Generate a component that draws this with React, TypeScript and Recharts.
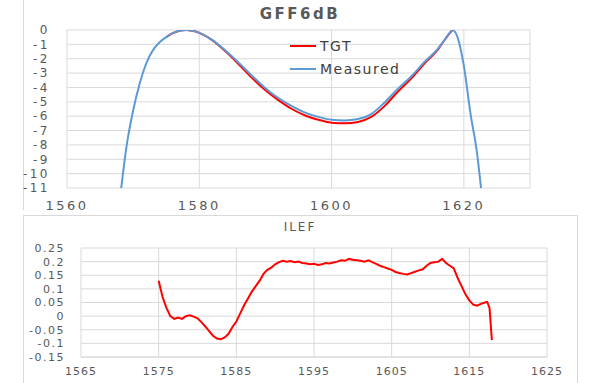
import React from 'react';
import { LineChart, Line, XAxis, YAxis, CartesianGrid } from 'recharts';

// GFF6dB: wavelength (nm) vs attenuation (dB)
const gffWavelength = [
  1568.2, 1569, 1570, 1571, 1572, 1573, 1574, 1575, 1576, 1577, 1578, 1579, 1580,
  1582, 1584, 1586, 1588, 1590, 1592, 1594, 1596, 1598, 1600, 1602, 1604, 1606,
  1608, 1610, 1612, 1614, 1616, 1617, 1618, 1618.3, 1619, 1620, 1621, 1622, 1622.6,
];
const gffTgt: (number | null)[] = [
  null, null, null, null, null, null, null, -0.5, -0.22, -0.05, 0, -0.06, -0.2,
  -0.72, -1.5, -2.4, -3.35, -4.2, -4.9, -5.5, -5.95, -6.25, -6.45, -6.5, -6.4, -6.05,
  -5.3, -4.3, -3.4, -2.35, -1.4, -0.75, -0.15, 0, null, null, null, null, null,
];
const gffMeasured = [
  -11, -8.1, -5.6, -3.7, -2.3, -1.4, -0.85, -0.5, -0.22, -0.05, 0, -0.06, -0.2,
  -0.7, -1.45, -2.3, -3.2, -4.05, -4.75, -5.3, -5.75, -6.05, -6.25, -6.3, -6.2, -5.85,
  -5.05, -4.1, -3.25, -2.25, -1.35, -0.75, -0.12, 0, -0.45, -2.5, -5.8, -8.6, -11,
];
const gffXTicks = [1560, 1580, 1600, 1620];
const gffYTicks = [0, -1, -2, -3, -4, -5, -6, -7, -8, -9, -10, -11];

// ILEF
const ilefWavelength = [
  1575, 1575.5, 1576, 1576.5, 1577, 1577.5, 1578, 1578.5, 1579, 1579.5, 1580, 1580.5,
  1581, 1581.5, 1582, 1582.5, 1583, 1583.5, 1584, 1584.5, 1585, 1585.5, 1586, 1586.5,
  1587, 1587.5, 1588, 1588.5, 1589, 1589.5, 1590, 1590.5, 1591, 1591.5, 1592, 1592.5,
  1593, 1593.5, 1594, 1594.5, 1595, 1595.5, 1596, 1596.5, 1597, 1597.5, 1598, 1598.5,
  1599, 1599.5, 1600, 1600.5, 1601, 1601.5, 1602, 1602.5, 1603, 1603.5, 1604, 1604.5,
  1605, 1605.5, 1606, 1606.5, 1607, 1607.5, 1608, 1608.5, 1609, 1609.5, 1610, 1610.5,
  1611, 1611.5, 1612, 1612.5, 1613, 1613.5, 1614, 1614.5, 1615, 1615.5, 1616, 1616.5,
  1617, 1617.3, 1617.6, 1617.9,
];
const ilefValue = [
  0.13, 0.07, 0.03, 0.0, -0.01, -0.005, -0.01, 0.0, 0.003, -0.002, -0.008, -0.022,
  -0.038, -0.055, -0.072, -0.082, -0.085, -0.078, -0.065, -0.04, -0.02, 0.01, 0.04, 0.065,
  0.09, 0.11, 0.13, 0.155, 0.17, 0.178, 0.19, 0.198, 0.203, 0.2, 0.202, 0.198,
  0.2, 0.195, 0.193, 0.19, 0.192, 0.188, 0.19, 0.195, 0.193, 0.197, 0.2, 0.205,
  0.203, 0.21, 0.207, 0.205, 0.203, 0.2, 0.205, 0.198, 0.192, 0.185, 0.18, 0.175,
  0.17, 0.162, 0.158, 0.155, 0.153, 0.158, 0.163, 0.168, 0.172, 0.185, 0.195, 0.198,
  0.2, 0.21, 0.195, 0.185, 0.175, 0.14, 0.11, 0.08, 0.058, 0.042, 0.038, 0.045,
  0.05, 0.052, 0.03, -0.088,
];
const ilefXTicks = [1565, 1575, 1585, 1595, 1605, 1615, 1625];
const ilefYTicks = [0.25, 0.2, 0.15, 0.1, 0.05, 0, -0.05, -0.1, -0.15];

const gffData = gffWavelength.map((w, i) => ({ w, tgt: gffTgt[i], measured: gffMeasured[i] }));
const ilefData = ilefWavelength.map((w, i) => ({ w, v: ilefValue[i] }));

const FONT = '"DejaVu Sans", sans-serif';
const TEXT = '#595959';
const GRID = '#d9d9d9';

const legendItems = [
  { name: 'TGT', color: '#ff0000' },
  { name: 'Measured', color: '#5b9bd5' },
];

export default function App() {
  return (
    <div style={{ position: 'fixed', left: 0, top: 0, width: 600, height: 383, background: '#fff', overflow: 'hidden' }}>
      {/* frames */}
      <div style={{ position: 'absolute', left: 23, top: 0, width: 1, height: 210, background: GRID }} />
      <div style={{ position: 'absolute', left: 23, top: 215, width: 553, height: 170, borderTop: `1px solid ${GRID}`, borderLeft: `1px solid ${GRID}`, borderRight: `1px solid ${GRID}` }} />

      <div style={{ position: 'absolute', left: 0, top: 5, width: 600, textAlign: 'center', fontFamily: FONT, fontWeight: 'bold', fontSize: 15, letterSpacing: 2.5, color: TEXT }}>
        GFF6dB
      </div>

      <div style={{ position: 'absolute', left: 0, top: 0 }}>
        <LineChart width={600} height={212} data={gffData} margin={{ top: 30, right: 70, bottom: 0, left: 0 }}>
          <CartesianGrid stroke={GRID} strokeWidth={1} />
          <XAxis
            dataKey="w"
            type="number"
            domain={[1560, 1630]}
            ticks={gffXTicks}
            interval={0}
            allowDataOverflow
            height={24}
            tickSize={0}
            tickMargin={13}
            axisLine={false}
            tick={{ fill: TEXT, fontSize: 13, fontFamily: FONT, letterSpacing: 2.5 }}
          />
          <YAxis
            type="number"
            domain={[-11, 0]}
            ticks={gffYTicks}
            interval={0}
            allowDataOverflow
            width={67}
            tickSize={0}
            tickMargin={17}
            axisLine={false}
            tick={{ fill: TEXT, fontSize: 12, fontFamily: FONT, letterSpacing: 2.5 }}
          />
          <Line
            type="monotone"
            dataKey="tgt"
            stroke="#ff0000"
            strokeWidth={2}
            dot={false}
            isAnimationActive={false}
          />
          <Line
            type="monotone"
            dataKey="measured"
            stroke="#5b9bd5"
            strokeWidth={2}
            dot={false}
            isAnimationActive={false}
          />
        </LineChart>
      </div>

      {/* legend */}
      <div style={{ position: 'absolute', left: 290, top: 34, fontFamily: FONT, fontSize: 14, letterSpacing: 1.5, color: '#404040' }}>
        {legendItems.map(item => (
          <div key={item.name} style={{ display: 'flex', alignItems: 'center', height: 23 }}>
            <div style={{ width: 26, height: 2, background: item.color, marginRight: 4 }} />
            <span>{item.name}</span>
          </div>
        ))}
      </div>

      <div style={{ position: 'absolute', left: 0, top: 220, width: 600, textAlign: 'center', fontFamily: FONT, fontSize: 12, letterSpacing: 2, color: TEXT }}>
        ILEF
      </div>

      <div style={{ position: 'absolute', left: 0, top: 215 }}>
        <LineChart width={600} height={168} data={ilefData} margin={{ top: 33, right: 53, bottom: 0, left: 0 }}>
          <CartesianGrid stroke={GRID} strokeWidth={1} />
          <XAxis
            dataKey="w"
            type="number"
            domain={[1565, 1625]}
            ticks={ilefXTicks}
            interval={0}
            height={26}
            tickSize={0}
            tickMargin={10}
            axisLine={{ stroke: GRID }}
            tick={{ fill: TEXT, fontSize: 11, fontFamily: FONT, letterSpacing: 1 }}
          />
          <YAxis
            type="number"
            domain={[-0.15, 0.25]}
            ticks={ilefYTicks}
            interval={0}
            width={81}
            tickSize={0}
            tickMargin={16}
            axisLine={false}
            tick={{ fill: TEXT, fontSize: 11, fontFamily: FONT, letterSpacing: 1.5 }}
          />
          <Line
            type="linear"
            dataKey="v"
            stroke="#ff0000"
            strokeWidth={2}
            dot={false}
            isAnimationActive={false}
          />
        </LineChart>
      </div>
    </div>
  );
}
